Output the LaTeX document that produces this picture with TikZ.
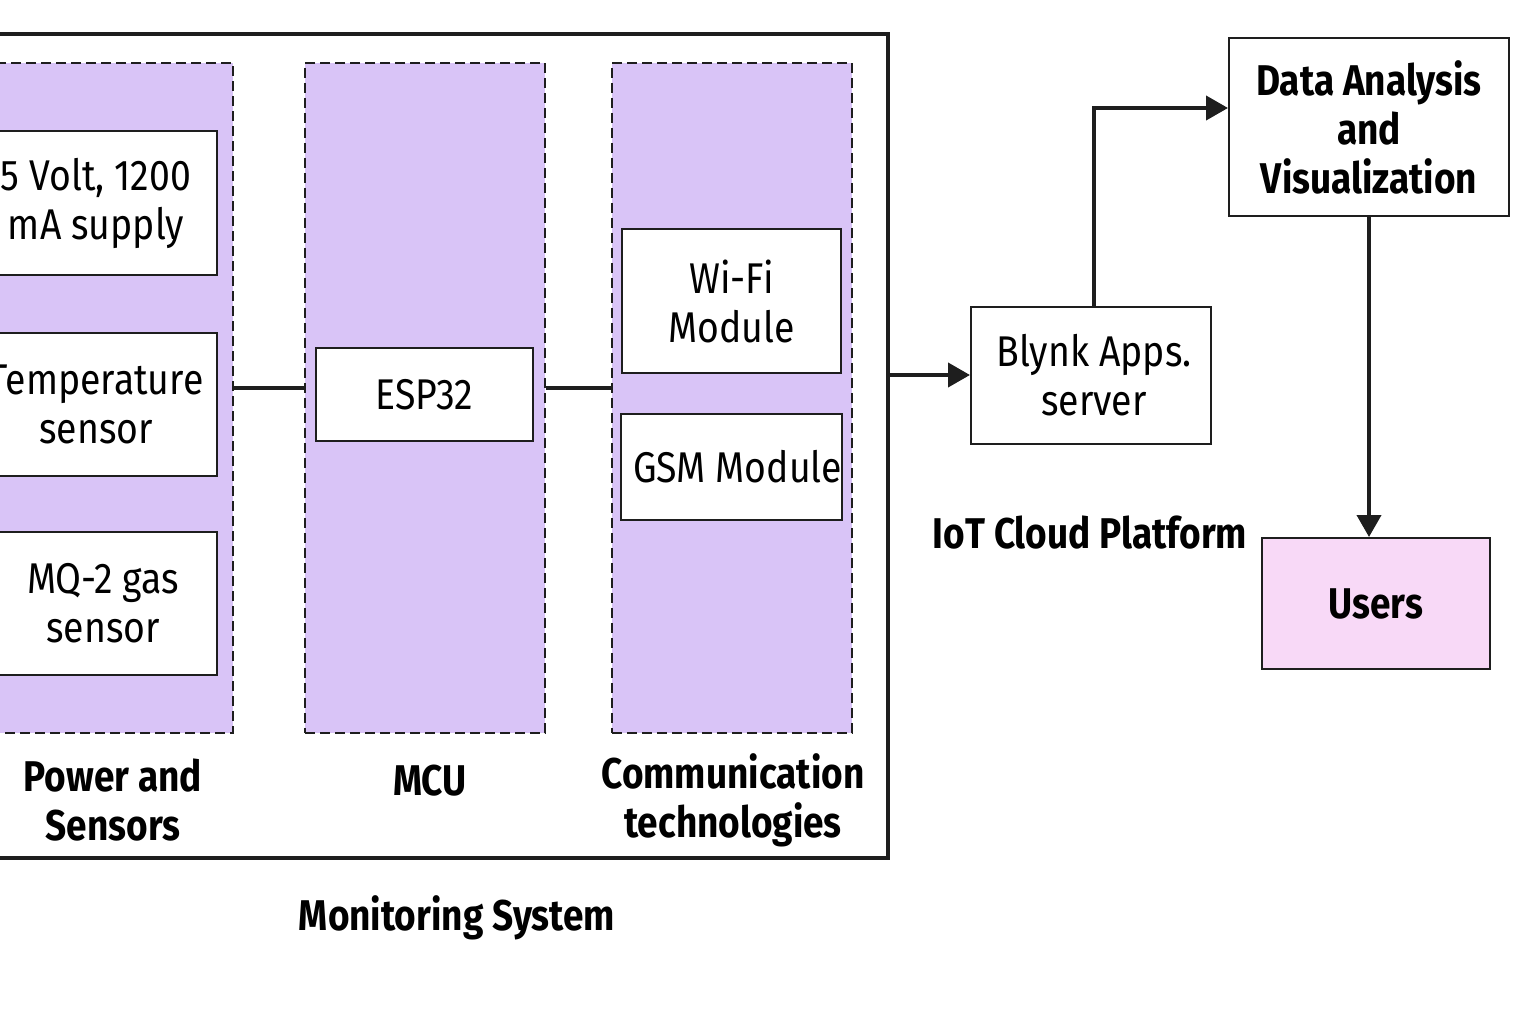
\documentclass[tikz,border=0pt]{standalone}
\usepackage{fontspec}
\setmainfont{Fira Sans}[FakeStretch=0.87,BoldFeatures={FakeStretch=0.86}]
\usetikzlibrary{arrows.meta}
\definecolor{lilac}{RGB}{217,196,247}
\definecolor{pinkish}{RGB}{248,217,247}
\definecolor{ink}{RGB}{30,30,30}

\begin{document}
\begin{tikzpicture}[x=1pt,y=-1pt,
    group/.style={draw=ink,line width=2pt,dash pattern=on 10pt off 5pt,fill=lilac,inner sep=0pt},
    box/.style={draw=ink,line width=2pt,fill=white,align=center,inner sep=0pt,font=\fontsize{43}{49}\selectfont},
    boldtext/.style={align=center,inner sep=0pt,font=\fontsize{43}{49}\selectfont\bfseries},
    link/.style={draw=ink,line width=4pt},
    arr/.style={link,-{Triangle[length=22pt,width=24pt]}}]
    \useasboundingbox (0,0) rectangle (1536,1024);
    \clip (0,0) rectangle (1536,1024);
    \node[draw=ink,line width=4pt,minimum width=948,minimum height=824,inner sep=0pt] (sys) at (414,446) {};
    \node[group,minimum width=273,minimum height=670] (power) at (96.5,398) {};
    \node[group,minimum width=240,minimum height=670] (mcu) at (425,398) {};
    \node[group,minimum width=240,minimum height=670] (comm) at (732,398) {};
    \node[box,minimum width=242,minimum height=144] (supply) at (96,203) {5 Volt, 1200\\mA supply};
    \node[box,minimum width=242,minimum height=143] (temp) at (96,404.5) {Temperature\\sensor};
    \node[box,minimum width=242,minimum height=143] (gas) at (96,603.5) {\hspace*{14pt}MQ-2 gas\\\hspace*{14pt}sensor};
    \node[box,minimum width=217,minimum height=93] (esp) at (424.5,394.5) {ESP32};
    \node[box,minimum width=219,minimum height=144] (wifi) at (731.5,301) {Wi-Fi\\Module};
    \node[box,minimum width=219,minimum height=106] (gsm) at (731.5,467) {\hspace*{12pt}GSM Module};
    \node[box,minimum width=240,minimum height=137] (blynk) at (1091,375.5) {\hspace*{6pt}Blynk Apps.\\\hspace*{6pt}server};
    \node[box,font=\fontsize{43}{49}\selectfont\bfseries,minimum width=280,minimum height=178] (dav) at (1369,127) {Data Analysis\\and\\Visualization};
    \node[box,fill=pinkish,font=\fontsize{43}{49}\selectfont\bfseries,minimum width=228,minimum height=131] (users) at (1376,603.5) {Users};
    \node[boldtext] (powerlbl) at (113,800) {Power and\\Sensors};
    \node[boldtext] (mculbl) at (430,781) {MCU};
    \node[boldtext] (commlbl) at (733,800) {Communication\\technologies};
    \node[boldtext] (syslbl) at (457,918) {Monitoring System};
    \node[boldtext] (cloudlbl) at (1090,533) {IoT Cloud Platform};
    \draw[link] (power.east |- 0,388) -- (mcu.west |- 0,388);
    \draw[link] (mcu.east |- 0,388) -- (comm.west |- 0,388);
    \draw[arr] (sys.east |- 0,375) -- (blynk.west |- 0,375);
    \draw[arr] ([xshift=3pt]blynk.north) |- ([yshift=19pt]dav.west);
    \draw[arr] (dav.south) -- (dav.south |- users.north);
\end{tikzpicture}
\end{document}
